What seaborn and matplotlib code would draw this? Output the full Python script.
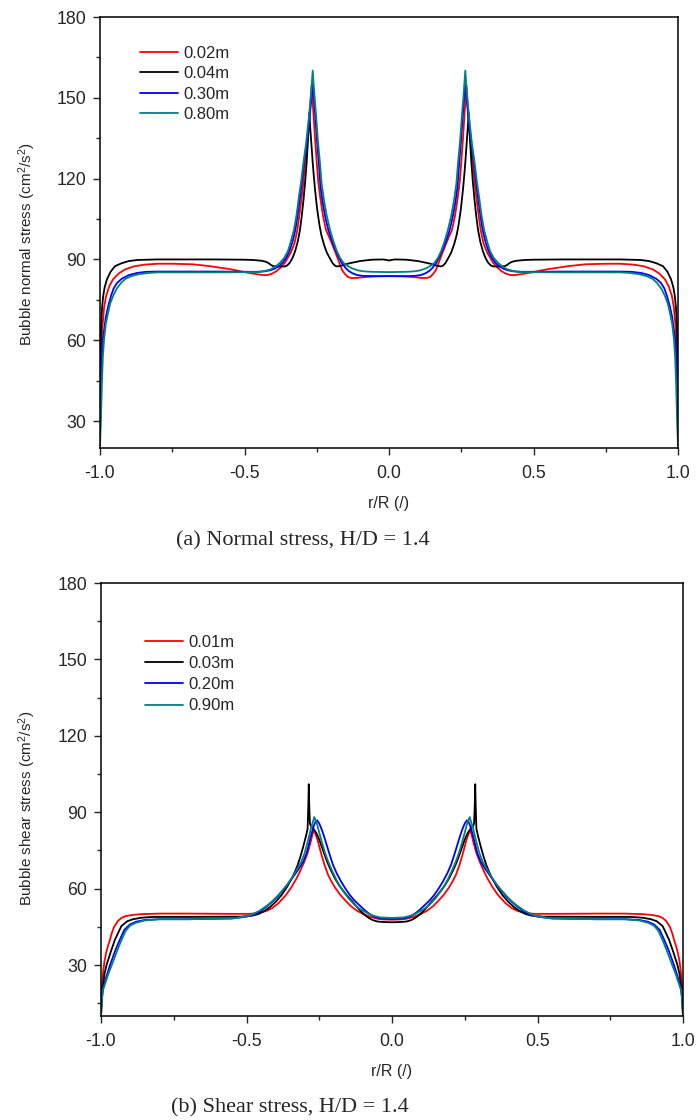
import numpy as np
import pandas as pd
import matplotlib
matplotlib.use('Agg')
import matplotlib.pyplot as plt
import seaborn as sns
from matplotlib.ticker import MultipleLocator, FormatStrFormatter

# ---- data (right half, r/R >= 0; profiles are symmetric) ----
# (a) normal stress
normal_labels = ['0.02m', '0.04m', '0.30m', '0.80m']
normal_red_x = [0.0, 0.05, 0.09, 0.115, 0.13, 0.142, 0.152, 0.162, 0.172, 0.185, 0.20, 0.218, 0.228,
                0.238, 0.245, 0.25, 0.256, 0.262, 0.268, 0.274, 0.28, 0.29, 0.298, 0.307, 0.317,
                0.327, 0.34, 0.36, 0.375, 0.39, 0.405, 0.42, 0.435, 0.45, 0.49, 0.55, 0.62, 0.68,
                0.75, 0.80, 0.843, 0.88, 0.913, 0.935, 0.955, 0.968, 0.979, 0.986, 0.993, 0.997,
                0.999, 1.0]
normal_red_y = [83.8, 83.7, 83.4, 83.1, 83.1, 83.5, 84.5, 86.0, 88.8, 92.5, 96.5, 101.0, 106.0,
                113.0, 119.0, 126.0, 135.0, 145.0, 154.5, 145.0, 136.0, 126.0, 117.0, 109.0, 101.0,
                96.0, 92.5, 88.8, 87.0, 85.6, 84.7, 84.2, 84.2, 84.4, 85.1, 86.4, 87.5, 88.2,
                88.4, 88.4, 88.1, 87.5, 86.3, 84.8, 82.6, 80.0, 76.4, 72.0, 63.0, 50.0,
                38.0, 21.0]
normal_black_x = [0.0, 0.008, 0.02, 0.06, 0.10, 0.14, 0.165, 0.178, 0.186, 0.195, 0.205, 0.215, 0.225,
                  0.234, 0.241, 0.249, 0.256, 0.261, 0.264, 0.27, 0.276, 0.28, 0.285, 0.29, 0.296,
                  0.302, 0.308, 0.316, 0.325, 0.334, 0.343, 0.352, 0.36, 0.385, 0.40, 0.408, 0.415,
                  0.425, 0.44, 0.47, 0.50, 0.60, 0.80, 0.87, 0.90, 0.925, 0.948, 0.963, 0.976,
                  0.984, 0.989, 0.993, 0.996, 0.998, 0.9993, 1.0]
normal_black_y = [89.6, 89.8, 90.0, 89.9, 89.4, 88.5, 87.7, 87.4, 87.6, 88.6, 90.5, 92.5, 95.5,
                  99.0, 103.0, 109.0, 116.0, 122.0, 126.0, 135.0, 144.3, 135.0, 126.0, 119.0, 112.0,
                  106.0, 101.0, 96.5, 93.0, 90.5, 88.8, 87.8, 87.4, 87.4, 87.5, 87.9, 88.5,
                  89.1, 89.5, 89.8, 89.9, 90.0, 90.0, 89.8, 89.4, 88.6, 87.5, 85.5, 82.6,
                  79.6, 76.4, 72.0, 66.0, 58.0, 45.0, 21.0]
normal_blue_x = [0.0, 0.05, 0.09, 0.11, 0.125, 0.138, 0.15, 0.164, 0.176, 0.19, 0.20, 0.21, 0.22,
                 0.23, 0.237, 0.243, 0.249, 0.255, 0.26, 0.264, 0.27, 0.278, 0.286, 0.294, 0.301,
                 0.308, 0.316, 0.324, 0.334, 0.345, 0.356, 0.368, 0.38, 0.395, 0.41, 0.43, 0.46,
                 0.60, 0.80, 0.84, 0.871, 0.90, 0.925, 0.941, 0.953, 0.962, 0.972, 0.98, 0.99,
                 0.995, 0.998, 1.0]
normal_blue_y = [83.8, 83.8, 83.9, 84.2, 84.8, 85.6, 86.8, 88.8, 91.3, 94.8, 97.6, 101.0, 105.5,
                 111.5, 117.0, 126.0, 134.0, 143.0, 150.0, 156.0, 148.0, 139.0, 132.0, 126.0, 119.0,
                 113.0, 106.5, 101.0, 96.5, 93.0, 90.6, 88.8, 87.6, 86.6, 86.0, 85.6, 85.4,
                 85.5, 85.5, 85.4, 85.0, 84.2, 82.8, 81.3, 79.2, 76.4, 72.5, 68.5, 60.3,
                 52.0, 42.0, 21.0]
normal_teal_x = [0.0, 0.06, 0.09, 0.11, 0.13, 0.145, 0.158, 0.17, 0.18, 0.192, 0.204, 0.215, 0.225,
                 0.233, 0.239, 0.246, 0.252, 0.258, 0.264, 0.27, 0.278, 0.287, 0.296, 0.304, 0.312,
                 0.32, 0.329, 0.34, 0.35, 0.363, 0.377, 0.393, 0.41, 0.43, 0.45, 0.60, 0.80, 0.829,
                 0.862, 0.892, 0.912, 0.927, 0.942, 0.955, 0.965, 0.972, 0.98, 0.986, 0.99, 0.993,
                 0.997, 1.0]
normal_teal_y = [85.3, 85.4, 85.6, 86.0, 86.8, 87.7, 88.8, 90.7, 93.0, 96.6, 101.0, 106.0, 112.0,
                 118.0, 126.0, 134.0, 143.0, 151.0, 160.1, 151.0, 142.0, 133.0, 126.0, 119.0, 113.0,
                 106.5, 101.0, 96.5, 93.0, 90.5, 88.8, 87.3, 86.3, 85.7, 85.3, 85.2, 85.2, 85.0,
                 84.6, 83.8, 82.8, 81.3, 79.2, 76.4, 73.5, 70.2, 66.0, 60.3, 54.0, 45.4,
                 30.0, 21.0]

# (b) shear stress
shear_labels = ['0.01m', '0.03m', '0.20m', '0.90m']
shear_red_x = [0.0, 0.03, 0.05, 0.076, 0.10, 0.12, 0.14, 0.16, 0.178, 0.195, 0.208, 0.22, 0.232,
               0.244, 0.256, 0.268, 0.274, 0.281, 0.29, 0.302, 0.316, 0.33, 0.346, 0.365, 0.39,
               0.41, 0.43, 0.46, 0.49, 0.55, 0.70, 0.80, 0.86, 0.89, 0.916, 0.93, 0.942, 0.955,
               0.963, 0.969, 0.976, 0.982, 0.988, 0.992, 0.996, 0.998, 1.0]
shear_red_y = [47.8, 47.9, 48.2, 49.0, 50.1, 51.3, 53.0, 55.3, 57.6, 60.3, 62.8, 65.5, 69.3,
               74.0, 79.2, 83.1, 81.0, 77.6, 74.0, 70.4, 66.8, 63.6, 60.5, 57.4, 54.3,
               52.5, 51.3, 50.4, 50.1, 50.1, 50.2, 50.2, 50.0, 49.7, 49.2, 48.5, 47.3, 45.0,
               42.5, 40.0, 37.5, 35.0, 31.5, 28.0, 23.0, 19.0, 10.0]
shear_black_x = [0.0, 0.03, 0.05, 0.065, 0.08, 0.095, 0.105, 0.118, 0.135, 0.157, 0.18, 0.195, 0.21,
                 0.222, 0.237, 0.25, 0.26, 0.27, 0.278, 0.282, 0.2845, 0.286, 0.2875, 0.29, 0.296,
                 0.305, 0.315, 0.325, 0.34, 0.36, 0.38, 0.40, 0.42, 0.44, 0.46, 0.48, 0.52, 0.70,
                 0.82, 0.86, 0.89, 0.91, 0.93, 0.952, 0.967, 0.981, 0.988, 0.995, 0.998, 1.0]
shear_black_y = [46.8, 46.9, 47.1, 47.6, 48.5, 49.8, 50.9, 52.5, 54.8, 57.6, 61.0, 63.8, 67.2,
                 70.3, 75.0, 79.3, 81.8, 83.5, 84.5, 85.5, 93.0, 101.0, 93.0, 83.5, 80.5,
                 76.5, 72.5, 69.0, 65.0, 60.8, 57.4, 54.8, 52.7, 51.1, 50.0, 49.4, 49.0, 48.9,
                 48.9, 48.6, 48.0, 47.2, 45.3, 40.0, 35.0, 30.0, 26.5, 20.0, 16.0, 10.0]
shear_blue_x = [0.0, 0.04, 0.06, 0.075, 0.087, 0.097, 0.112, 0.13, 0.145, 0.16, 0.175, 0.19, 0.203,
                0.216, 0.228, 0.24, 0.25, 0.257, 0.263, 0.27, 0.278, 0.286, 0.293, 0.305, 0.322,
                0.34, 0.355, 0.37, 0.39, 0.41, 0.43, 0.45, 0.475, 0.50, 0.55, 0.70, 0.80, 0.85,
                0.88, 0.90, 0.92, 0.935, 0.95, 0.969, 0.98, 0.988, 0.994, 0.998, 1.0]
shear_blue_y = [48.1, 48.3, 48.9, 49.9, 50.9, 51.9, 53.5, 55.5, 57.5, 60.0, 62.8, 66.0, 69.4,
                74.0, 78.5, 82.8, 85.6, 86.8, 86.3, 84.2, 81.0, 77.3, 74.0, 70.6, 67.5,
                64.6, 62.2, 60.0, 57.3, 55.0, 53.0, 51.3, 49.8, 49.0, 48.3, 48.0, 48.0, 47.7,
                47.0, 46.0, 43.8, 40.0, 36.0, 30.0, 26.0, 23.0, 20.0, 15.0, 10.0]
shear_teal_x = [0.0, 0.04, 0.065, 0.08, 0.095, 0.11, 0.13, 0.15, 0.174, 0.19, 0.205, 0.218, 0.23,
                0.24, 0.25, 0.259, 0.267, 0.28, 0.29, 0.30, 0.312, 0.327, 0.343, 0.36, 0.377,
                0.395, 0.412, 0.43, 0.454, 0.48, 0.50, 0.55, 0.70, 0.80, 0.85, 0.88, 0.90,
                0.915, 0.929, 0.945, 0.963, 0.975, 0.985, 0.994, 0.998, 1.0]
shear_teal_y = [48.5, 48.7, 49.4, 50.1, 51.0, 52.0, 53.8, 56.3, 60.0, 63.2, 66.8, 70.2, 74.0,
                77.8, 82.0, 86.0, 88.1, 83.0, 78.2, 74.0, 70.5, 67.5, 64.4, 61.6, 59.2,
                56.9, 55.0, 53.3, 51.4, 49.9, 49.1, 48.3, 48.0, 48.0, 47.5, 46.6, 45.5,
                43.5, 40.0, 35.5, 30.0, 26.5, 23.0, 20.0, 15.0, 10.0]

colors = ['#FF0000', '#000000', '#0000FF', '#008080']


def mirror(xh, yh):
    xh = np.asarray(xh, dtype=float)
    yh = np.asarray(yh, dtype=float)
    x = np.concatenate([-xh[::-1], xh[1:]])
    y = np.concatenate([yh[::-1], yh[1:]])
    return x, y


def build_frame(series, labels):
    frames = []
    for (xh, yh), lab in zip(series, labels):
        x, y = mirror(xh, yh)
        frames.append(pd.DataFrame({'r': x, 'stress': y, 'case': lab}))
    return pd.concat(frames, ignore_index=True)


normal_df = build_frame([(normal_red_x, normal_red_y), (normal_black_x, normal_black_y),
                         (normal_blue_x, normal_blue_y), (normal_teal_x, normal_teal_y)], normal_labels)
shear_df = build_frame([(shear_red_x, shear_red_y), (shear_black_x, shear_black_y),
                        (shear_blue_x, shear_blue_y), (shear_teal_x, shear_teal_y)], shear_labels)

sns.set_style('ticks')
plt.rcParams['font.family'] = ['Liberation Sans', 'DejaVu Sans']
plt.rcParams['axes.unicode_minus'] = False
plt.rcParams['mathtext.fontset'] = 'custom'
plt.rcParams['mathtext.rm'] = 'Liberation Sans'
plt.rcParams['mathtext.it'] = 'Liberation Sans'

fig = plt.figure(figsize=(6.97, 11.2), dpi=100)
ax_top = fig.add_axes([100 / 697, 1 - 448 / 1120, 578 / 697, 431 / 1120])
ax_bot = fig.add_axes([101 / 697, 1 - 1016 / 1120, 582 / 697, 433 / 1120])


def style_axis(ax, df, labels, ymin, ylabel, leg_anchor, ylab_pos, spacing):
    sns.lineplot(data=df, x='r', y='stress', hue='case', hue_order=labels,
                 palette=colors, sort=False, estimator=None, units='case',
                 linewidth=1.3, ax=ax)
    ax.set_xlim(-1.0, 1.0)
    ax.set_ylim(ymin, 180)
    ax.xaxis.set_major_locator(MultipleLocator(0.5))
    ax.xaxis.set_minor_locator(MultipleLocator(0.25))
    ax.xaxis.set_major_formatter(FormatStrFormatter('%.1f'))
    ax.yaxis.set_major_locator(MultipleLocator(30))
    ax.yaxis.set_minor_locator(MultipleLocator(15))
    ax.tick_params(which='major', direction='out', length=5, width=1, labelsize=12.8)
    ax.tick_params(which='minor', direction='out', length=3, width=1)
    ax.tick_params(axis='x', which='major', pad=7.5)
    ax.tick_params(axis='y', which='major', pad=5)
    ax.tick_params(top=False, right=False, which='both')
    for sp in ax.spines.values():
        sp.set_linewidth(1.1)
        sp.set_color('black')
    ax.set_xlabel('r/R (/)', fontsize=11.5, labelpad=10)
    ax.set_ylabel(ylabel, fontsize=11)
    ax.yaxis.set_label_coords(-0.108, ylab_pos)
    leg = ax.legend(loc='upper left', bbox_to_anchor=leg_anchor, frameon=False, fontsize=12,
                    handlelength=2.3, handletextpad=0.3, labelspacing=spacing,
                    borderpad=0, borderaxespad=0)
    for h in leg.get_lines():
        h.set_linewidth(1.3)


style_axis(ax_top, normal_df, normal_labels, 20, 'Bubble normal stress (cm$^2$/s$^2$)',
           (0.069, 0.933), 0.472, 0.32)
style_axis(ax_bot, shear_df, shear_labels, 10, 'Bubble shear stress (cm$^2$/s$^2$)',
           (0.0756, 0.880), 0.48, 0.37)

fig.text(303 / 697, 1 - 541 / 1120, '(a) Normal stress, H/D = 1.4', ha='center', va='center',
         fontsize=16, family=['Liberation Serif', 'DejaVu Serif'])
fig.text(290 / 697, 1 - 1108 / 1120, '(b) Shear stress, H/D = 1.4', ha='center', va='center',
         fontsize=16, family=['Liberation Serif', 'DejaVu Serif'])

fig.savefig('out.png', dpi=100)
